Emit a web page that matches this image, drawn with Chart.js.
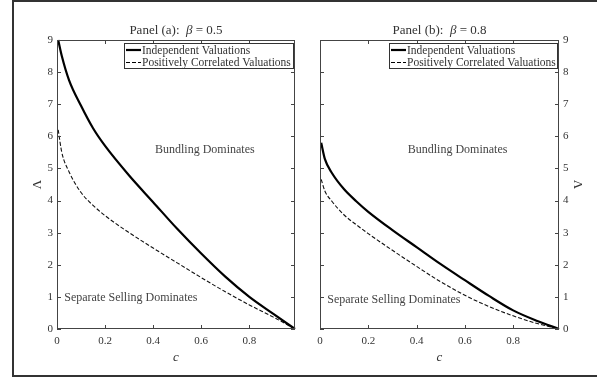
<!DOCTYPE html>
<html>
<head>
<meta charset="utf-8">
<script src="https://cdn.jsdelivr.net/npm/chart.js@4/dist/chart.umd.min.js"></script>
<style>
  body { margin: 0; background: #fff; width: 597px; height: 377px; overflow: hidden; position: relative; }
  #frame { position: absolute; left: 12px; top: 0; width: 600px; height: 377px; border: 2px solid #333; box-sizing: border-box; }
  canvas { position: absolute; top: 0; }
  #chartA { left: 0; }
  #chartB { left: 300px; }
</style>
</head>
<body>
<div id="frame"></div>
<canvas id="chartA" width="300" height="377"></canvas>
<canvas id="chartB" width="297" height="377"></canvas>
<script>
// c grid shared by all curves
const cValues = [0.005, 0.02, 0.05, 0.1, 0.15, 0.2, 0.3, 0.4, 0.5, 0.6, 0.7, 0.8, 0.9, 0.99];

// Panel (a): beta = 0.5
const indepA = [9.0, 8.5, 7.75, 6.95, 6.25, 5.7, 4.78, 3.95, 3.12, 2.35, 1.63, 1.0, 0.47, 0];
const corrA  = [6.2, 5.5, 4.9, 4.25, 3.85, 3.53, 3.0, 2.52, 2.06, 1.6, 1.16, 0.75, 0.37, 0];

// Panel (b): beta = 0.8
const indepB = [5.8, 5.3, 4.85, 4.35, 3.98, 3.65, 3.08, 2.55, 2.02, 1.52, 1.03, 0.58, 0.25, 0];
const corrB  = [4.66, 4.3, 3.97, 3.55, 3.25, 2.97, 2.45, 1.95, 1.47, 1.05, 0.7, 0.41, 0.17, 0];

const seriesNames = ['Independent Valuations', 'Positively Correlated Valuations'];
const SERIF = '"Liberation Serif", "DejaVu Serif", serif';

function points(vals) {
    return cValues.map((c, i) => ({ x: c, y: vals[i] }));
}

// MATLAB-like box with inward ticks
const boxTicks = {
    id: 'boxTicks',
    afterDraw(chart) {
        const { ctx, chartArea: a, scales: { x, y } } = chart;
        ctx.save();
        ctx.strokeStyle = '#444';
        ctx.lineWidth = 1;
        ctx.strokeRect(a.left + 0.5, a.top + 0.5, a.right - a.left - 1, a.bottom - a.top - 1);
        ctx.beginPath();
        x.ticks.forEach(t => {
            const px = Math.round(x.getPixelForValue(t.value)) + 0.5;
            ctx.moveTo(px, a.bottom); ctx.lineTo(px, a.bottom - 4);
            ctx.moveTo(px, a.top); ctx.lineTo(px, a.top + 4);
        });
        y.ticks.forEach(t => {
            const py = Math.round(y.getPixelForValue(t.value)) + 0.5;
            ctx.moveTo(a.left, py); ctx.lineTo(a.left + 4, py);
            ctx.moveTo(a.right, py); ctx.lineTo(a.right - 4, py);
        });
        ctx.stroke();
        ctx.restore();
    }
};

// panel title with italic beta, legend box and region labels
const extras = {
    id: 'extras',
    afterDraw(chart, args, opts) {
        const { ctx, chartArea: a, scales: { x, y } } = chart;
        ctx.save();
        ctx.fillStyle = '#333';
        ctx.textBaseline = 'middle';

        // title
        const parts = [
            [opts.label + ':  ', '13px ' + SERIF],
            ['\u03b2', 'italic 13px ' + SERIF],
            [' = ' + opts.beta, '13px ' + SERIF]
        ];
        let total = 0;
        parts.forEach(p => { ctx.font = p[1]; total += ctx.measureText(p[0]).width; });
        let tx = (a.left + a.right) / 2 - total / 2;
        parts.forEach(p => {
            ctx.font = p[1];
            ctx.textAlign = 'left';
            ctx.fillText(p[0], tx, 31);
            tx += ctx.measureText(p[0]).width;
        });

        // legend
        const lx = opts.legendX, ly = a.top + 3;
        ctx.font = '11.5px ' + SERIF;
        const boxW = a.right - 2 - lx, boxH = 25;
        ctx.fillStyle = '#fff';
        ctx.fillRect(lx, ly, boxW, boxH);
        ctx.strokeStyle = '#333';
        ctx.lineWidth = 1;
        ctx.strokeRect(lx + 0.5, ly + 0.5, boxW, boxH);
        chart.data.datasets.forEach((ds, i) => {
            const ry = ly + 7 + i * 12.5;
            ctx.beginPath();
            ctx.setLineDash(ds.borderDash || []);
            ctx.strokeStyle = '#000';
            ctx.lineWidth = ds.borderWidth;
            ctx.moveTo(lx + 2, ry); ctx.lineTo(lx + 17, ry);
            ctx.stroke();
            ctx.setLineDash([]);
            ctx.fillStyle = '#333';
            ctx.textAlign = 'left';
            ctx.fillText(seriesNames[i], lx + 18, ry + 0.5);
        });

        // region labels
        ctx.font = '12px ' + SERIF;
        ctx.fillStyle = '#444';
        ctx.textAlign = 'center';
        ctx.fillText('Bundling Dominates', x.getPixelForValue(opts.bundleAt[0]), y.getPixelForValue(opts.bundleAt[1]));
        ctx.textAlign = 'left';
        ctx.fillText('Separate Selling Dominates', x.getPixelForValue(opts.sepAt[0]), y.getPixelForValue(opts.sepAt[1]));
        ctx.restore();
    }
};

function buildPanel(canvasId, indep, corr, side, extraOpts) {
    const left = side === 'left';
    new Chart(document.getElementById(canvasId), {
        type: 'line',
        data: {
            datasets: [{
                label: seriesNames[0],
                data: points(indep),
                borderColor: '#000',
                borderWidth: 2.2,
                pointRadius: 0,
                cubicInterpolationMode: 'monotone'
            }, {
                label: seriesNames[1],
                data: points(corr),
                borderColor: '#111',
                borderWidth: 1.1,
                borderDash: [4, 2],
                pointRadius: 0,
                cubicInterpolationMode: 'monotone'
            }]
        },
        options: {
            responsive: false,
            animation: false,
            devicePixelRatio: 1,
            clip: false,
            layout: {
                padding: left ? { top: 40, right: 5, left: 30, bottom: 12 } : { top: 40, right: 12, left: 20, bottom: 12 }
            },
            scales: {
                x: {
                    type: 'linear',
                    min: 0,
                    max: 0.99,
                    grid: { display: false, drawTicks: false },
                    border: { display: false },
                    afterBuildTicks: s => {
                        s.ticks = s.ticks.filter(t => Math.abs(t.value * 5 - Math.round(t.value * 5)) < 1e-6);
                    },
                    ticks: {
                        stepSize: 0.2,
                        padding: 6,
                        color: '#333',
                        font: { family: SERIF, size: 11 },
                        callback: v => Math.round(v * 10) / 10
                    },
                    title: {
                        display: true,
                        text: 'c',
                        color: '#333',
                        padding: { top: 1, bottom: 0 },
                        font: { family: SERIF, size: 13, style: 'italic' }
                    },
                    afterFit: s => { s.height = 36; }
                },
                y: {
                    position: side,
                    min: 0,
                    max: 9,
                    grid: { display: false, drawTicks: false },
                    border: { display: false },
                    ticks: {
                        stepSize: 1,
                        padding: 4,
                        color: '#333',
                        font: { family: SERIF, size: 11 }
                    },
                    title: {
                        display: true,
                        text: '\u039b',
                        color: '#333',
                        padding: 0,
                        font: { family: SERIF, size: 13 }
                    },
                    afterFit: s => { s.width = left ? 27 : 26; }
                }
            },
            plugins: {
                legend: { display: false },
                tooltip: { enabled: false },
                extras: extraOpts
            }
        },
        plugins: [boxTicks, extras]
    });
}

buildPanel('chartA', indepA, corrA, 'left', {
    label: 'Panel (a)', beta: '0.5', legendX: 124,
    bundleAt: [0.615, 5.57], sepAt: [0.03, 0.97]
});
buildPanel('chartB', indepB, corrB, 'right', {
    label: 'Panel (b)', beta: '0.8', legendX: 89,
    bundleAt: [0.57, 5.57], sepAt: [0.03, 0.9]
});
</script>
</body>
</html>
